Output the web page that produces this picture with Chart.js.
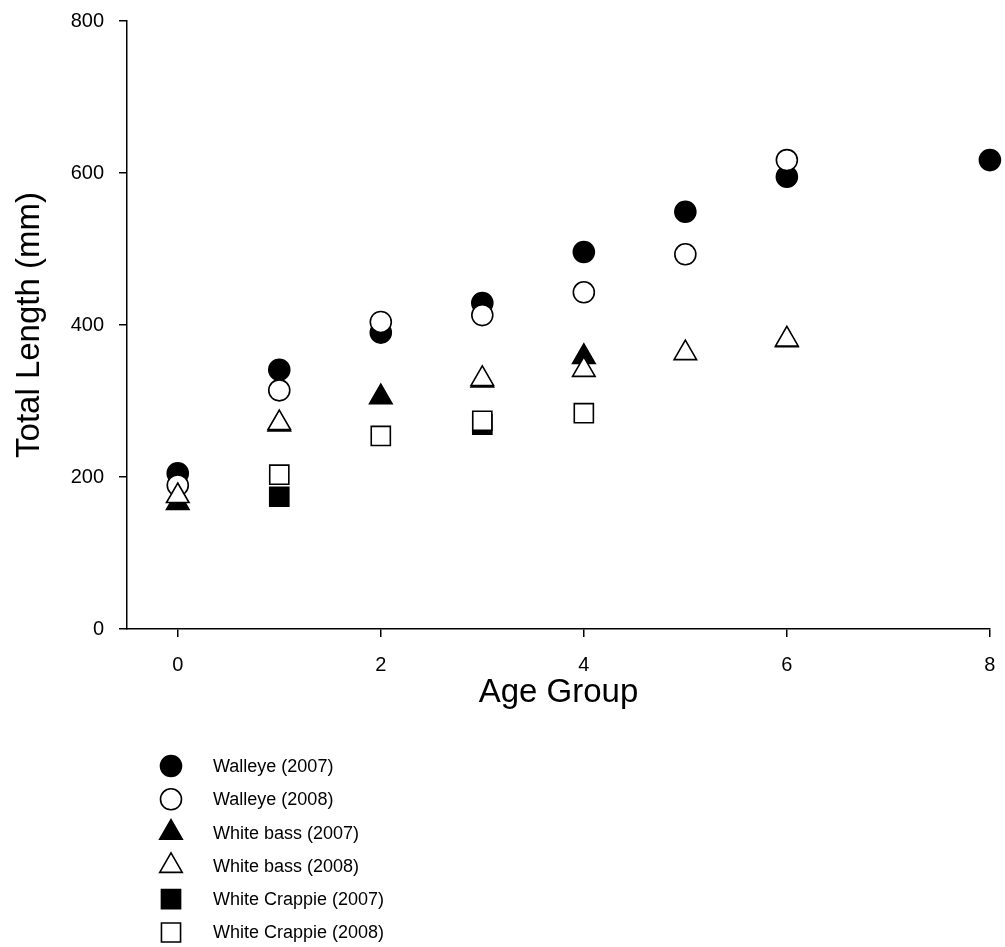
<!DOCTYPE html>
<html lang="en">
<head>
  <meta charset="UTF-8">
  <title>Total Length by Age Group</title>
  <script src="https://cdn.jsdelivr.net/npm/chart.js"></script>
  <style>
    body{margin:0;background:#fff;}
    #chart{display:block;}
  </style>
</head>
<body>
  <canvas id="chart" width="1005" height="947"></canvas>
  <script>
    // age (x) and total length in mm (y)
    const walleye07Age = [0, 1, 2, 3, 4, 5, 6, 8];
    const walleye07Len = [205, 341, 390, 429, 496, 549, 595, 617];
    const walleye08Age = [0, 1, 2, 3, 4, 5, 6];
    const walleye08Len = [189, 314, 404, 413, 443, 493, 617];
    const bass07Age = [0, 1, 2, 3, 4, 6];
    const bass07Len = [166, 269, 305, 327, 358, 380];
    const bass08Age = [0, 1, 3, 4, 5, 6];
    const bass08Len = [175, 271, 329, 341, 363, 381];
    const crappie07Age = [1, 3];
    const crappie07Len = [174, 269];
    const crappie08Age = [1, 2, 3, 4];
    const crappie08Len = [203, 254, 274, 284];

    const seriesNames = ['Walleye (2007)', 'Walleye (2008)', 'White bass (2007)',
      'White bass (2008)', 'White Crappie (2007)', 'White Crappie (2008)'];
    const ageTicks = [0, 2, 4, 6, 8];
    const lengthTicks = [0, 200, 400, 600, 800];

    const FONT = "'Liberation Sans', Arial, sans-serif";

    function pts(xs, ys){ return xs.map((x, i) => ({x: x, y: ys[i]})); }

    const marks = [
      {style: 'circle', fill: '#000', r: 10.5},
      {style: 'circle', fill: '#fff', r: 10.5},
      {style: 'triangle', fill: '#000', r: 13},
      {style: 'triangle', fill: '#fff', r: 13},
      {style: 'rect', fill: '#000', r: 13.5},
      {style: 'rect', fill: '#fff', r: 13.5}
    ];
    const seriesData = [
      pts(walleye07Age, walleye07Len), pts(walleye08Age, walleye08Len),
      pts(bass07Age, bass07Len), pts(bass08Age, bass08Len),
      pts(crappie07Age, crappie07Len), pts(crappie08Age, crappie08Len)
    ];

    const datasets = seriesNames.map((name, i) => ({
      label: name,
      data: seriesData[i],
      pointStyle: marks[i].style,
      pointRadius: marks[i].r,
      pointHoverRadius: marks[i].r,
      pointBackgroundColor: marks[i].fill,
      pointBorderColor: '#000',
      pointBorderWidth: 1.6,
      showLine: false,
      clip: false,
      order: seriesNames.length - i   // later series drawn on top
    }));

    // legend drawn under the plot, one row per series
    const sideLegend = {
      id: 'sideLegend',
      afterDraw(chart){
        const ctx = chart.ctx;
        ctx.save();
        ctx.font = '18px ' + FONT;
        ctx.textBaseline = 'middle';
        seriesNames.forEach((name, i) => {
          const y = 766 + i * 33.3;
          ctx.fillStyle = marks[i].fill;
          ctx.strokeStyle = '#000';
          ctx.lineWidth = 1.6;
          Chart.helpers.drawPoint(ctx, {pointStyle: marks[i].style, radius: marks[i].r, borderWidth: 1.6}, 171, y);
          ctx.fillStyle = '#000';
          ctx.fillText(name, 213, y + 1);
        });
        ctx.restore();
      }
    };

    new Chart(document.getElementById('chart'), {
      type: 'scatter',
      data: {datasets: datasets},
      plugins: [sideLegend],
      options: {
        responsive: false,
        animation: false,
        layout: {padding: {top: 21, right: 9, left: 0, bottom: 228}},
        plugins: {legend: {display: false}, tooltip: {enabled: true}},
        scales: {
          x: {
            type: 'linear',
            min: -0.5,
            max: 8,
            afterBuildTicks(scale){ scale.ticks = ageTicks.map(v => ({value: v})); },
            afterFit(scale){ scale.height = 90; scale.paddingLeft = 0; scale.paddingRight = 0; },
            border: {display: true, color: '#000', width: 1.5},
            grid: {display: true, drawOnChartArea: false, drawTicks: true, tickLength: 8, color: '#000', lineWidth: 1.5},
            ticks: {color: '#000', padding: 16, font: {family: FONT, size: 20}},
            title: {display: true, text: 'Age Group', color: '#000', padding: {top: 0, bottom: 6}, font: {family: FONT, size: 33}}
          },
          y: {
            min: 0,
            max: 800,
            afterBuildTicks(scale){ scale.ticks = lengthTicks.map(v => ({value: v})); },
            afterFit(scale){ scale.width = 127; scale.paddingTop = 0; scale.paddingBottom = 0; },
            border: {display: true, color: '#000', width: 1.5},
            grid: {display: true, drawOnChartArea: false, drawTicks: true, tickLength: 8, color: '#000', lineWidth: 1.5},
            ticks: {color: '#000', padding: 15, font: {family: FONT, size: 20}},
            title: {display: true, text: 'Total Length (mm)', color: '#000', padding: {top: 10, bottom: 0}, font: {family: FONT, size: 33}}
          }
        }
      }
    });
  </script>
</body>
</html>
